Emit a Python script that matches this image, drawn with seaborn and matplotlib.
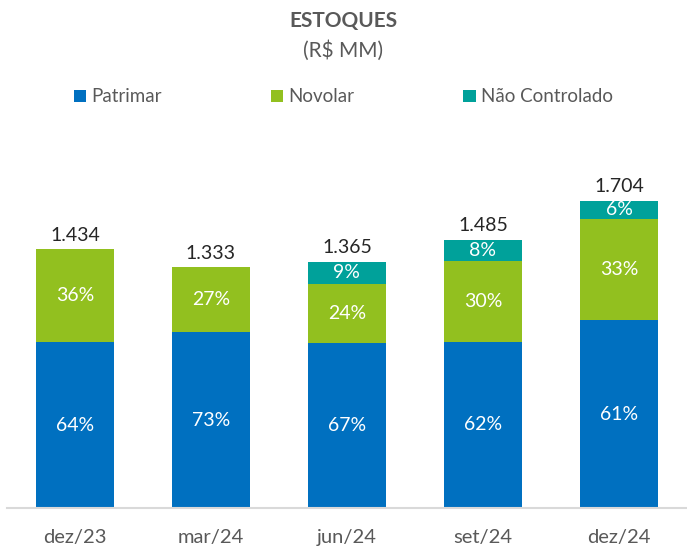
import pandas as pd
import matplotlib.pyplot as plt
import seaborn as sns
from matplotlib.patches import Patch

# Data
periods = ["dez/23", "mar/24", "jun/24", "set/24", "dez/24"]
totals = [1434, 1333, 1365, 1485, 1704]
total_labels = ["1.434", "1.333", "1.365", "1.485", "1.704"]
patrimar_pct = [64, 73, 67, 62, 61]
novolar_pct = [36, 27, 24, 30, 33]
nao_ctrl_pct = [0, 0, 9, 8, 6]

series = ["Patrimar", "Novolar", "Não Controlado"]
colors = ["#0070C0", "#92C01F", "#00A19A"]

df = pd.DataFrame({"period": periods, "total": totals,
                   "Patrimar": patrimar_pct, "Novolar": novolar_pct,
                   "Não Controlado": nao_ctrl_pct})

sns.set_theme(style="white")
plt.rcParams["font.family"] = ["Lato", "DejaVu Sans"]

fig = plt.figure(figsize=(6.87, 5.51), dpi=100)
ax = fig.add_axes([0.010, 0.078, 0.99, 0.655])

bottom = pd.Series([0.0] * len(df))
for name, col in zip(series, colors):
    vals = df["total"] * df[name] / 100
    sns.barplot(x=df["period"], y=vals, bottom=bottom, color=col, width=0.57,
                order=periods, ax=ax, saturation=1, linewidth=0)
    for i, (v, p) in enumerate(zip(vals, df[name])):
        if p > 0:
            ax.text(i, bottom[i] + v / 2, f"{p}%", ha="center", va="center",
                    color="white", fontsize=14)
    bottom = bottom + vals

for i, (t, lab) in enumerate(zip(totals, total_labels)):
    ax.annotate(lab, (i, t), xytext=(0, 4), textcoords="offset points",
                ha="center", va="bottom", fontsize=14, color="#262626")

ax.set_xlim(-0.5, 4.5)
ax.set_ylim(0, 2000)
ax.set_xlabel("")
ax.set_ylabel("")
ax.set_yticks([])
for s in ["top", "right", "left"]:
    ax.spines[s].set_visible(False)
ax.spines["bottom"].set_color("#D9D9D9")
ax.spines["bottom"].set_linewidth(1.5)
ax.tick_params(axis="x", length=0, pad=15, labelsize=14.5, labelcolor="#595959")

fig.text(0.5, 0.961, "ESTOQUES", ha="center", va="center", fontsize=15,
         fontweight="bold", color="#595959")
fig.text(0.5, 0.908, "(R$ MM)", ha="center", va="center", fontsize=15,
         color="#595959")

handles = [Patch(facecolor=c, edgecolor="none") for c in colors]
fig.legend(handles, series, loc="center", bbox_to_anchor=(0.5, 0.824), ncol=3,
           frameon=False, fontsize=13.5, handlelength=0.65, handleheight=0.65,
           handletextpad=0.3, columnspacing=5.8, labelcolor="#595959")

fig.savefig("out.png", dpi=100)
